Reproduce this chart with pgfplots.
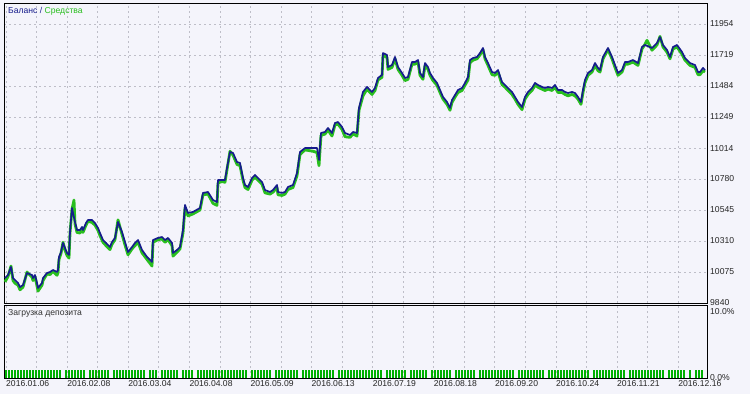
\documentclass[border=0pt]{standalone}
\usepackage{pgfplots}
\pgfplotsset{compat=1.18}
\usepackage{fontspec}
\setmainfont{Liberation Sans}
\definecolor{bgcol}{RGB}{244,244,251}
\definecolor{balblue}{RGB}{22,28,140}
\definecolor{eqgreen}{RGB}{40,190,30}
\definecolor{bargreen}{RGB}{0,175,0}
\definecolor{gridc}{RGB}{190,190,200}
\newcommand{\lblfont}{\fontsize{8.6}{10}\selectfont}
\begin{document}
\begin{tikzpicture}
\fill[bgcol] (0pt,0pt) rectangle (750pt,394pt);
\begin{axis}[
  at={(4pt,91pt)}, anchor=south west, scale only axis,
  width=703pt, height=300pt,
  xmin=4, xmax=707, ymin=9840, ymax=12113,
  scaled ticks=false,
  axis background/.style={fill=bgcol},
  xtick={6,67.1,128.2,189.3,250.4,311.5,372.6,433.7,494.8,555.9,617,678.1},
  minor xtick={36.55,97.65,158.75,219.85,280.95,342.05,403.15,464.25,525.35,586.45,647.55},
  xticklabels={},
  ytick={9840,10075,10310,10545,10780,11014,11249,11484,11719,11954},
  yticklabels={9840,10075,10310,10545,10780,11014,11249,11484,11719,11954},
  yticklabel pos=right,
  yticklabel style={anchor=west, inner sep=0pt, xshift=3pt, font=\lblfont, text=black!85},
  major tick length=0pt, minor tick length=0pt,
  grid=both,
  major grid style={gridc, dash pattern=on 2pt off 3pt, line width=0.7pt},
  minor grid style={gridc, dash pattern=on 2pt off 3pt, line width=0.7pt},
  axis line style={black, line width=0.9pt},
]
% Equity
\addplot[eqgreen, line width=2.8pt, line join=round] coordinates {
(5,10000)(8,10040)(11,10120)(13,10010)(15,9990)(18,9975)(20,9940)(23,9960)(27,10075)(32,10035)(33,10010)(35,10040)(37,9970)(38,9930)(42,9975)(43,10010)(47,10060)(50,10055)(53,10080)(57,10050)(58,10070)(59,10170)(61,10215)(63,10300)(65,10240)(67,10200)(69,10180)(70,10370)(72,10550)(74,10620)(75,10440)(77,10375)(80,10370)(82,10400)(83,10375)(86,10430)(88,10460)(92,10450)(95,10430)(98,10390)(100,10350)(103,10300)(106,10275)(110,10245)(112,10285)(115,10320)(118,10470)(122,10360)(125,10280)(128,10205)(132,10250)(135,10275)(138,10300)(142,10220)(147,10170)(152,10120)(153,10300)(158,10320)(162,10325)(165,10300)(168,10320)(172,10275)(173,10195)(177,10225)(180,10250)(183,10370)(185,10560)(188,10500)(193,10515)(200,10545)(203,10660)(208,10665)(213,10595)(217,10580)(218,10750)(222,10760)(225,10755)(227,10850)(230,10990)(233,10960)(237,10890)(240,10880)(243,10770)(245,10715)(248,10700)(252,10770)(255,10795)(258,10770)(262,10740)(265,10675)(270,10665)(273,10680)(277,10715)(278,10660)(282,10655)(285,10665)(288,10700)(293,10715)(297,10805)(300,10965)(305,11000)(313,10990)(317,10980)(319,10880)(321,11110)(325,11120)(328,11150)(332,11105)(335,11190)(338,11195)(342,11155)(345,11100)(350,11095)(353,11120)(357,11105)(359,11300)(363,11410)(367,11460)(370,11435)(372,11420)(375,11450)(378,11530)(382,11550)(383,11720)(387,11700)(388,11610)(392,11625)(395,11690)(398,11610)(402,11565)(405,11525)(408,11535)(412,11650)(415,11650)(418,11665)(420,11565)(423,11535)(425,11640)(428,11610)(430,11565)(433,11525)(437,11490)(440,11435)(443,11385)(447,11345)(450,11300)(452,11360)(455,11400)(458,11435)(462,11450)(465,11490)(468,11530)(470,11660)(473,11680)(477,11690)(480,11720)(483,11760)(485,11690)(488,11640)(492,11570)(495,11565)(498,11590)(502,11495)(505,11475)(508,11450)(512,11420)(515,11385)(518,11345)(522,11305)(525,11385)(528,11420)(532,11450)(535,11490)(538,11475)(542,11460)(545,11450)(548,11460)(552,11450)(555,11475)(558,11435)(562,11435)(565,11420)(568,11410)(572,11420)(575,11410)(578,11385)(581,11345)(583,11435)(585,11510)(588,11565)(592,11590)(595,11640)(598,11600)(600,11590)(603,11690)(608,11760)(612,11690)(615,11625)(618,11565)(622,11590)(625,11650)(628,11650)(633,11665)(638,11640)(642,11765)(645,11800)(647,11830)(652,11755)(657,11795)(660,11860)(663,11780)(667,11740)(670,11690)(673,11765)(677,11780)(682,11725)(685,11680)(690,11640)(695,11625)(698,11570)(700,11570)(703,11600)(705,11590)
};
% Balance
\addplot[balblue, line width=1.7pt, line join=round] coordinates {
(5,10029)(8,10052)(11,10113)(13,10029)(15,10014)(18,9992)(20,9961)(23,9976)(27,10067)(32,10052)(33,10029)(35,10052)(37,9992)(38,9954)(42,9992)(43,10029)(47,10067)(50,10075)(53,10090)(57,10075)(58,10090)(59,10189)(61,10226)(63,10295)(65,10257)(67,10219)(69,10204)(70,10378)(72,10560)(73,10522)(75,10454)(77,10393)(80,10393)(82,10416)(83,10393)(86,10446)(88,10469)(92,10469)(95,10446)(98,10408)(100,10370)(103,10317)(106,10295)(110,10264)(112,10302)(115,10333)(118,10454)(122,10378)(125,10302)(128,10226)(132,10264)(135,10295)(138,10317)(142,10242)(147,10189)(152,10151)(153,10317)(158,10333)(162,10340)(165,10317)(168,10333)(172,10295)(173,10219)(177,10242)(180,10264)(183,10393)(185,10583)(188,10522)(193,10530)(200,10560)(203,10674)(208,10681)(213,10620)(217,10605)(218,10772)(222,10772)(225,10772)(227,10863)(230,10984)(233,10977)(237,10908)(240,10901)(243,10787)(245,10734)(248,10719)(252,10787)(255,10810)(258,10787)(262,10757)(265,10696)(270,10681)(273,10696)(277,10734)(278,10681)(282,10674)(285,10681)(288,10719)(293,10734)(297,10825)(300,10984)(305,11014)(313,11014)(317,11014)(319,10924)(321,11128)(325,11136)(328,11166)(332,11128)(335,11204)(338,11211)(342,11174)(345,11128)(350,11113)(353,11136)(357,11128)(359,11318)(363,11439)(367,11477)(370,11454)(372,11439)(375,11469)(378,11545)(382,11568)(383,11734)(387,11719)(388,11628)(392,11643)(395,11704)(398,11628)(402,11583)(405,11545)(408,11552)(412,11666)(415,11666)(418,11681)(420,11583)(423,11552)(425,11658)(428,11628)(430,11583)(433,11545)(437,11507)(440,11454)(443,11401)(447,11363)(450,11318)(452,11378)(455,11416)(458,11454)(462,11469)(465,11507)(468,11552)(470,11681)(473,11696)(477,11704)(480,11734)(483,11772)(485,11704)(488,11658)(492,11590)(495,11583)(498,11605)(502,11514)(505,11492)(508,11469)(512,11439)(515,11401)(518,11363)(522,11325)(525,11401)(528,11439)(532,11469)(535,11507)(538,11492)(542,11477)(545,11469)(548,11477)(552,11469)(555,11492)(558,11454)(562,11454)(565,11439)(568,11431)(572,11439)(575,11431)(578,11401)(581,11363)(583,11454)(585,11530)(588,11583)(592,11605)(595,11658)(598,11621)(600,11605)(603,11704)(608,11772)(612,11704)(615,11643)(618,11583)(622,11605)(625,11666)(628,11666)(633,11681)(638,11658)(642,11780)(645,11795)(652,11772)(657,11810)(660,11855)(663,11795)(667,11757)(670,11704)(673,11780)(677,11795)(682,11742)(685,11696)(690,11658)(695,11643)(698,11590)(700,11590)(703,11621)(705,11605)
};
\end{axis}
\fill[bgcol] (708pt,0pt) rectangle (750pt,88.5pt);
\begin{axis}[
  at={(4pt,16pt)}, anchor=south west, scale only axis,
  width=703pt, height=73pt,
  xmin=4, xmax=707, ymin=0, ymax=11.06,
  scaled ticks=false,
  axis background/.style={fill=bgcol},
  xtick={6,67.1,128.2,189.3,250.4,311.5,372.6,433.7,494.8,555.9,617,678.1},
  minor xtick={36.55,97.65,158.75,219.85,280.95,342.05,403.15,464.25,525.35,586.45,647.55},
  xticklabels={2016.01.06,2016.02.08,2016.03.04,2016.04.08,2016.05.09,2016.06.13,2016.07.19,2016.08.18,2016.09.20,2016.10.24,2016.11.21,2016.12.16},
  xticklabel style={anchor=north west, inner sep=0pt, yshift=-2.5pt, font=\lblfont, text=black!85},
  ytick={0,10}, yticklabels={0.0\%,10.0\%},
  yticklabel pos=right,
  yticklabel style={anchor=west, inner sep=0pt, xshift=3pt, font=\lblfont, text=black!85},
  major tick length=0pt, minor tick length=0pt,
  xmajorgrids, xminorgrids,
  major grid style={gridc, dash pattern=on 2pt off 3pt, line width=0.7pt},
  minor grid style={gridc, dash pattern=on 2pt off 3pt, line width=0.7pt},
  axis line style={black, line width=0.9pt},
]
\addplot[ycomb, bargreen, line width=2pt, mark=none] coordinates {
(6,1.2)(9,1.2)(12,1.2)(15,1.2)(18,1.2)(21,1.2)(24,1.2)(27,1.2)(30,1.2)(33,1.2)(36,1.2)(39,1.2)(42,1.2)(45,1.2)(48,1.2)(51,1.2)(54,1.2)(57,1.2)(60,1.2)(66,1.2)(69,1.2)(72,1.2)(75,1.2)(78,1.2)(81,1.2)(84,1.2)(90,1.2)(93,1.2)(96,1.2)(99,1.2)(102,1.2)(105,1.2)(108,1.2)(114,1.2)(117,1.2)(120,1.2)(123,1.2)(126,1.2)(129,1.2)(132,1.2)(135,1.2)(138,1.2)(141,1.2)(144,1.2)(150,1.2)(153,1.2)(156,1.2)(162,1.2)(165,1.2)(168,1.2)(171,1.2)(174,1.2)(177,1.2)(183,1.2)(186,1.2)(189,1.2)(192,1.2)(198,1.2)(201,1.2)(204,1.2)(207,1.2)(210,1.2)(213,1.2)(216,1.2)(219,1.2)(222,1.2)(225,1.2)(228,1.2)(231,1.2)(234,1.2)(237,1.2)(240,1.2)(243,1.2)(246,1.2)(252,1.2)(255,1.2)(258,1.2)(261,1.2)(264,1.2)(267,1.2)(270,1.2)(276,1.2)(279,1.2)(282,1.2)(285,1.2)(288,1.2)(291,1.2)(294,1.2)(297,1.2)(303,1.2)(306,1.2)(309,1.2)(312,1.2)(315,1.2)(318,1.2)(321,1.2)(324,1.2)(327,1.2)(330,1.2)(333,1.2)(339,1.2)(342,1.2)(345,1.2)(348,1.2)(351,1.2)(354,1.2)(357,1.2)(360,1.2)(363,1.2)(366,1.2)(369,1.2)(372,1.2)(375,1.2)(378,1.2)(381,1.2)(387,1.2)(390,1.2)(393,1.2)(396,1.2)(399,1.2)(402,1.2)(405,1.2)(411,1.2)(414,1.2)(417,1.2)(420,1.2)(423,1.2)(426,1.2)(432,1.2)(435,1.2)(438,1.2)(441,1.2)(444,1.2)(447,1.2)(450,1.2)(456,1.2)(459,1.2)(462,1.2)(465,1.2)(468,1.2)(471,1.2)(474,1.2)(480,1.2)(483,1.2)(486,1.2)(489,1.2)(492,1.2)(495,1.2)(498,1.2)(501,1.2)(504,1.2)(507,1.2)(510,1.2)(513,1.2)(519,1.2)(522,1.2)(525,1.2)(528,1.2)(531,1.2)(534,1.2)(537,1.2)(540,1.2)(543,1.2)(549,1.2)(552,1.2)(555,1.2)(558,1.2)(561,1.2)(564,1.2)(567,1.2)(570,1.2)(573,1.2)(576,1.2)(579,1.2)(582,1.2)(585,1.2)(588,1.2)(594,1.2)(597,1.2)(600,1.2)(603,1.2)(606,1.2)(609,1.2)(612,1.2)(615,1.2)(618,1.2)(621,1.2)(624,1.2)(630,1.2)(633,1.2)(636,1.2)(639,1.2)(642,1.2)(645,1.2)(648,1.2)(651,1.2)(654,1.2)(657,1.2)(660,1.2)(663,1.2)(669,1.2)(672,1.2)(675,1.2)(678,1.2)(681,1.2)(684,1.2)(690,1.2)(696,1.2)(699,1.2)(702,1.2)
};
\end{axis}
\node[anchor=west, inner sep=0pt, font=\lblfont] at (8pt,383pt) {\textcolor{balblue}{Баланс /} \textcolor{eqgreen}{Средства}};
\node[anchor=west, inner sep=0pt, font=\lblfont, text=black!80] at (8pt,81pt) {Загрузка депозита};
\end{tikzpicture}
\end{document}
